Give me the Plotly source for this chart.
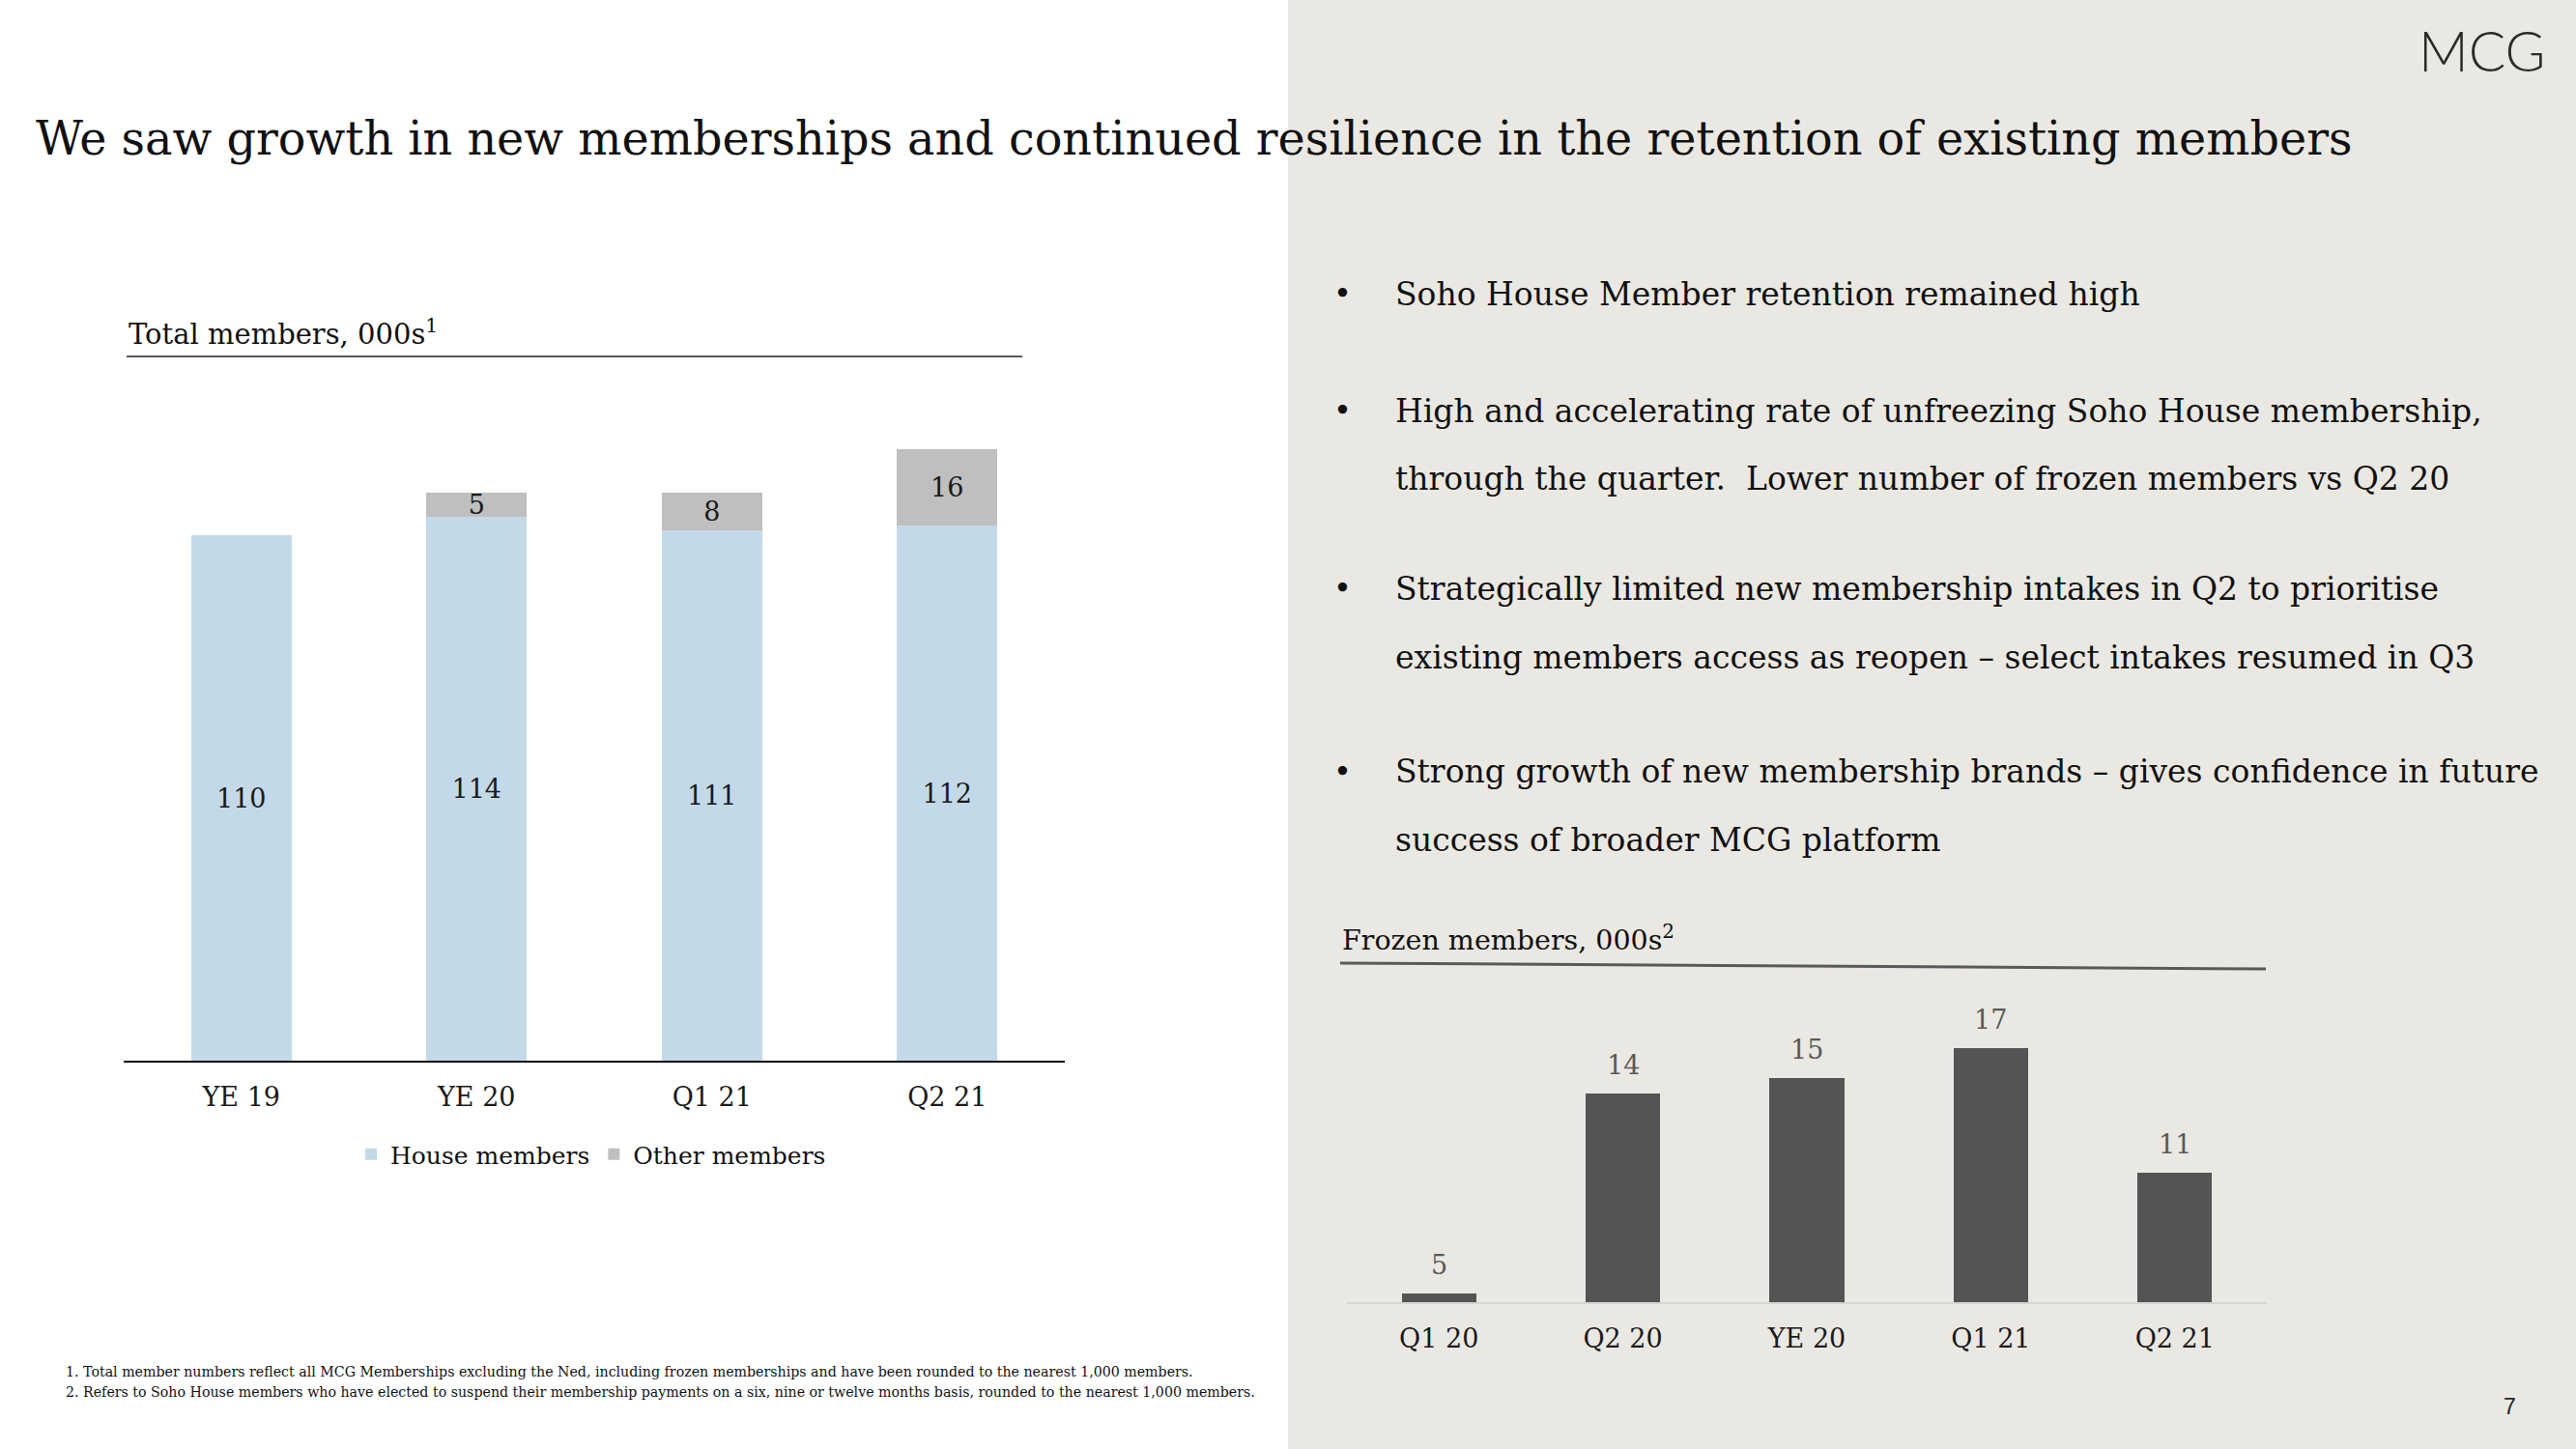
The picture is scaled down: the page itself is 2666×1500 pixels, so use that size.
import plotly.graph_objects as go

W, H = 2666, 1500

# ---------------- data ----------------
total_categories = ["YE 19", "YE 20", "Q1 21", "Q2 21"]
house_members = [110, 114, 111, 112]
other_members = [0, 5, 8, 16]

frozen_categories = ["Q1 20", "Q2 20", "YE 20", "Q1 21", "Q2 21"]
frozen_labels = [5, 14, 15, 17, 11]
frozen_bar_heights = [0.6, 14, 15, 17, 8.7]   # bar heights as drawn in the reference

title_text = "We saw growth in new memberships and continued resilience in the retention of existing members"
left_chart_title = "Total members, 000s<sup>1</sup>"
right_chart_title = "Frozen members, 000s<sup>2</sup>"
bullet_lines = [
    ("•", "Soho House Member retention remained high"),
    ("•", "High and accelerating rate of unfreezing Soho House membership,"),
    ("", "through the quarter.  Lower number of frozen members vs Q2 20"),
    ("•", "Strategically limited new membership intakes in Q2 to prioritise"),
    ("", "existing members access as reopen \u2013 select intakes resumed in Q3"),
    ("•", "Strong growth of new membership brands \u2013 gives confidence in future"),
    ("", "success of broader MCG platform"),
]
footnotes = [
    "1. Total member numbers reflect all MCG Memberships excluding the Ned, including frozen memberships and have been rounded to the nearest 1,000 members.",
    "2. Refers to Soho House members who have elected to suspend their membership payments on a six, nine or twelve months basis, rounded to the nearest 1,000 members.",
]

SERIF = "DejaVu Serif"
HOUSE_COLOR = "#C3D9E8"
OTHER_COLOR = "#BFBFBF"
FROZEN_COLOR = "#545454"
PANEL_COLOR = "#EAE8E2"


def px(x):
    return x / W


def py(y):
    return 1 - y / H


fig = go.Figure()

fig.add_trace(go.Bar(
    x=total_categories, y=house_members, name="House members",
    marker=dict(color=HOUSE_COLOR, line=dict(width=0)),
    width=0.427,
    text=[str(v) for v in house_members], textposition="inside",
    insidetextanchor="middle", constraintext="none", textangle=0,
    textfont=dict(family=SERIF, size=27, color="#1a1a1a"),
    xaxis="x", yaxis="y", hoverinfo="skip",
))
fig.add_trace(go.Bar(
    x=total_categories, y=other_members, name="Other members",
    marker=dict(color=OTHER_COLOR, line=dict(width=0)),
    width=0.427,
    text=[str(v) if v else None for v in other_members], textposition="inside",
    insidetextanchor="middle", constraintext="none", textangle=0,
    textfont=dict(family=SERIF, size=27, color="#1a1a1a"),
    xaxis="x", yaxis="y", hoverinfo="skip",
))
fig.add_trace(go.Bar(
    x=frozen_categories, y=frozen_bar_heights, name="Frozen members",
    marker=dict(color=FROZEN_COLOR, line=dict(width=0)),
    width=0.405, showlegend=False,
    xaxis="x2", yaxis="y2", hoverinfo="skip",
))

annotations = []
# frozen value labels above bars
for cat, h, lab in zip(frozen_categories, frozen_bar_heights, frozen_labels):
    annotations.append(dict(
        x=cat, y=h, xref="x2", yref="y2", text=str(lab), showarrow=False,
        xanchor="center", yanchor="bottom", yshift=12,
        font=dict(family=SERIF, size=27, color="#595959"),
    ))

# title
annotations.append(dict(
    x=px(35), y=py(143), xref="paper", yref="paper", text=title_text,
    showarrow=False, xanchor="left", yanchor="middle",
    font=dict(family=SERIF, size=47.7, color="#111111"),
))
# chart titles
annotations.append(dict(
    x=px(131), y=py(344), xref="paper", yref="paper", text=left_chart_title,
    showarrow=False, xanchor="left", yanchor="middle",
    font=dict(family=SERIF, size=29, color="#111111"),
))
annotations.append(dict(
    x=px(1387), y=py(971), xref="paper", yref="paper", text=right_chart_title,
    showarrow=False, xanchor="left", yanchor="middle",
    font=dict(family=SERIF, size=28.5, color="#111111"),
))
# bullets
bullet_y = [304, 425, 495, 609, 680, 799, 869]
for (b, t), yy in zip(bullet_lines, bullet_y):
    if b:
        annotations.append(dict(
            x=px(1378), y=py(yy), xref="paper", yref="paper", text=b,
            showarrow=False, xanchor="left", yanchor="middle",
            font=dict(family=SERIF, size=32, color="#111111"),
        ))
    annotations.append(dict(
        x=px(1442), y=py(yy), xref="paper", yref="paper", text=t,
        showarrow=False, xanchor="left", yanchor="middle",
        font=dict(family=SERIF, size=33, color="#111111"),
    ))
# footnotes
for t, yy in zip(footnotes, [1420, 1441]):
    annotations.append(dict(
        x=px(66), y=py(yy), xref="paper", yref="paper", text=t,
        showarrow=False, xanchor="left", yanchor="middle",
        font=dict(family=SERIF, size=14.2, color="#111111"),
    ))
# logo and page number
annotations.append(dict(
    x=px(2637), y=py(52), xref="paper", yref="paper", text="MCG",
    showarrow=False, xanchor="right", yanchor="middle",
    font=dict(family="Lato", size=57, color="#2b2b2b", weight=300),
))
annotations.append(dict(
    x=px(2606), y=py(1456), xref="paper", yref="paper", text="7",
    showarrow=False, xanchor="right", yanchor="middle",
    font=dict(family="Liberation Sans", size=23, color="#222222"),
))

shapes = [
    dict(type="rect", xref="paper", yref="paper", x0=px(1333), x1=1, y0=0, y1=1,
         fillcolor=PANEL_COLOR, line=dict(width=0), layer="below"),
    dict(type="line", xref="paper", yref="paper", x0=px(131), x1=px(1058),
         y0=py(369), y1=py(369), line=dict(color="#595959", width=2)),
    dict(type="line", xref="paper", yref="paper", x0=px(1387), x1=px(2345),
         y0=py(997), y1=py(1003), line=dict(color="#595959", width=3)),
]

fig.update_layout(
    width=W, height=H,
    margin=dict(l=0, r=0, t=0, b=0),
    paper_bgcolor="white", plot_bgcolor="rgba(0,0,0,0)",
    barmode="stack",
    showlegend=True,
    legend=dict(
        orientation="h", x=px(612), xanchor="center", y=py(1195), yanchor="middle",
        font=dict(family=SERIF, size=25, color="#111111"),
        bgcolor="rgba(0,0,0,0)", traceorder="normal", itemwidth=30,
    ),
    xaxis=dict(
        domain=[px(128), px(1102)], anchor="y",
        showline=True, linecolor="#000000", linewidth=2,
        showgrid=False, zeroline=False, ticks="", ticklabelstandoff=13,
        tickfont=dict(family=SERIF, size=27, color="#1a1a1a"),
        fixedrange=True,
    ),
    yaxis=dict(
        domain=[py(1098), py(406)], anchor="x", range=[0, 140],
        visible=False, fixedrange=True,
    ),
    xaxis2=dict(
        domain=[px(1394), px(2346)], anchor="y2",
        showline=True, linecolor="#D6D5D0", linewidth=2,
        showgrid=False, zeroline=False, ticks="", ticklabelstandoff=13,
        tickfont=dict(family=SERIF, size=27, color="#1a1a1a"),
        fixedrange=True,
    ),
    yaxis2=dict(
        domain=[py(1348), py(1008)], anchor="x2", range=[0, 22],
        visible=False, fixedrange=True,
    ),
    annotations=annotations,
    shapes=shapes,
)

fig.write_html(
    "out.html",
    config={"displayModeBar": False},
    post_script="document.body.style.margin='0';document.body.style.padding='0';",
)
